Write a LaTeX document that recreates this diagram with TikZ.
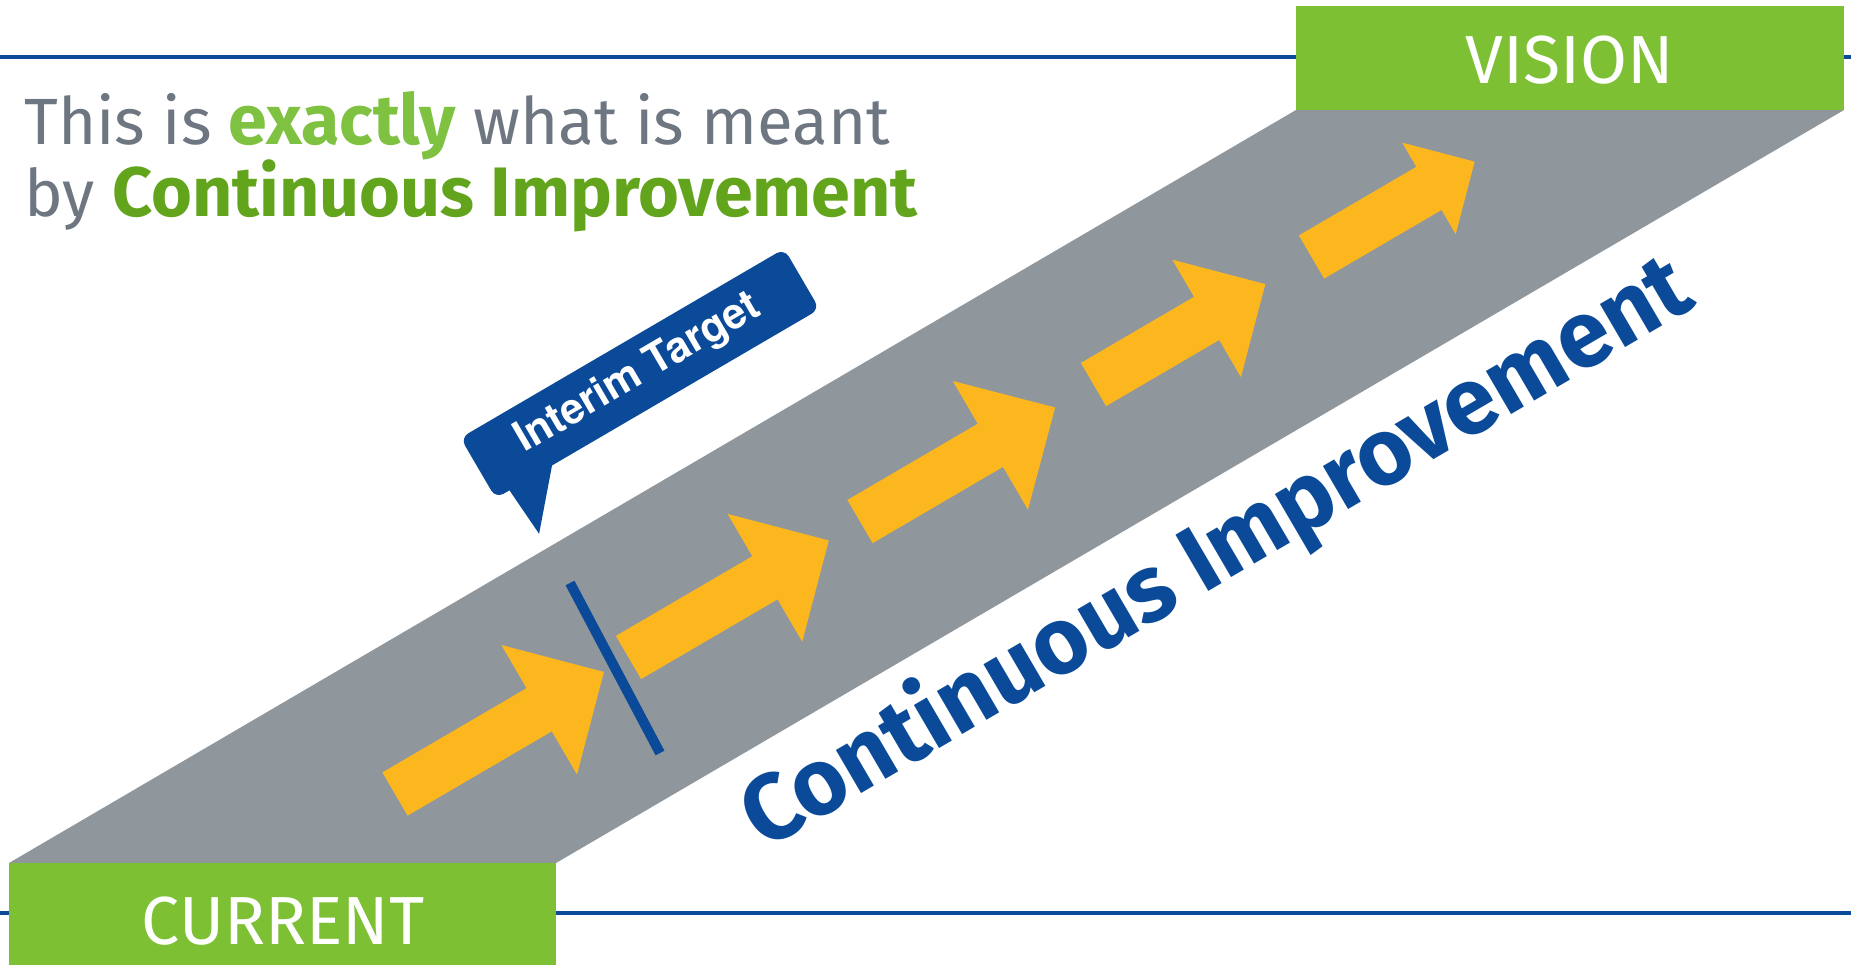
\documentclass[tikz,border=0pt]{standalone}
\usepackage[T1]{fontenc}
\usepackage{fontspec}
\setmainfont{Fira Sans}
\definecolor{cigreen}{HTML}{7DC034}
\definecolor{exgreen}{HTML}{7FC241}
\definecolor{dkgreen}{HTML}{62A41C}
\definecolor{bandgrey}{HTML}{8F979D}
\definecolor{txtgrey}{HTML}{6E7781}
\definecolor{ciyellow}{HTML}{FDB71E}
\definecolor{ciblue}{HTML}{0A4A98}
\tikzset{
  rule/.style={draw=ciblue, line width=4pt},
  greenbox/.style={fill=cigreen},
  boxtext/.style={text=white, inner sep=0pt, font=\fontsize{68}{72}\selectfont},
  arrowfill/.style={fill=ciyellow},
}
\newcommand{\yarrow}[5]{%
  \begin{scope}[shift={(#1,#2)}, rotate=30.3]
    \fill[arrowfill] (0,-25) -- ({#3-#4},-25) -- ({#3-#4},{-#5/2}) -- (#3,0)
      -- ({#3-#4},{#5/2}) -- ({#3-#4},25) -- (0,25) -- cycle;
  \end{scope}}
\newcommand{\rg}{\fontsize{65.4}{72}\selectfont}
\newcommand{\bd}{\fontsize{70}{72}\selectfont\bfseries}
\newcommand{\tonehv}{\fontencoding{T1}\fontfamily{phv}\fontseries{b}\fontshape{n}\selectfont}
\begin{document}
\begin{tikzpicture}[x=1pt,y=-1pt]
\useasboundingbox (0,0) rectangle (1851,964);
\fill[white] (0,0) rectangle (1851,964);
% horizontal rules
\coordinate (tl) at (0,57); \coordinate (tr) at (1851,57);
\coordinate (bl) at (0,913); \coordinate (br) at (1851,913);
\draw[rule] (tl) -- (tr);
\draw[rule] (bl) -- (br);
% band
\fill[bandgrey] (9,863) -- (556,863) -- (1844,110) -- (1296,110) -- cycle;
% boxes
\fill[greenbox] (1296,6) rectangle (1844,110);
\fill[greenbox] (9,863) rectangle (556,970);
\node[boxtext, anchor=base] (vision) at (1570,83) {VISION};
\node[boxtext, anchor=base] (current) at (283,944) {CURRENT};
% title
\node[anchor=base west, inner sep=0pt, text=txtgrey] (title1) at (24,144)
  {\rg This is {\bd\color{exgreen}exactly} what is meant};
\node[anchor=base west, inner sep=0pt, text=txtgrey] (title2) at (24,216)
  {\rg by {\bd\color{dkgreen}Continuous Improvement}};
% arrows
\yarrow{395}{794}{242}{75}{150}
\yarrow{628.5}{657.5}{232}{74}{148}
\yarrow{860}{521.5}{226}{75}{149}
\yarrow{1093.5}{384.5}{199}{68}{136}
\yarrow{1311.5}{257}{189}{53}{106}
% interim marker line
\coordinate (m1) at (570,583); \coordinate (m2) at (660,753);
\draw[ciblue, line width=10pt] (m1) -- (m2);
% callout
\begin{scope}[shift={(640,373.5)}, rotate=30.3]
  \fill[ciblue, rounded corners=9pt] (-187.5,-35) rectangle (187.5,35);
  \fill[ciblue] (-172,30) -- (-168,87.5) -- (-118,30) -- cycle;
\end{scope}
\node[rotate=30.3, text=white, inner sep=0pt, font={\tonehv\fontsize{42}{44}\selectfont}] (interim) at (638,374) {Interim Target};
% big label
\node[rotate=30.3, anchor=base west, inner sep=0pt, text=ciblue, font=\bfseries\fontsize{94}{98}\selectfont] (ci) at (764,851) {Continuous Improvement};
\end{tikzpicture}
\end{document}
